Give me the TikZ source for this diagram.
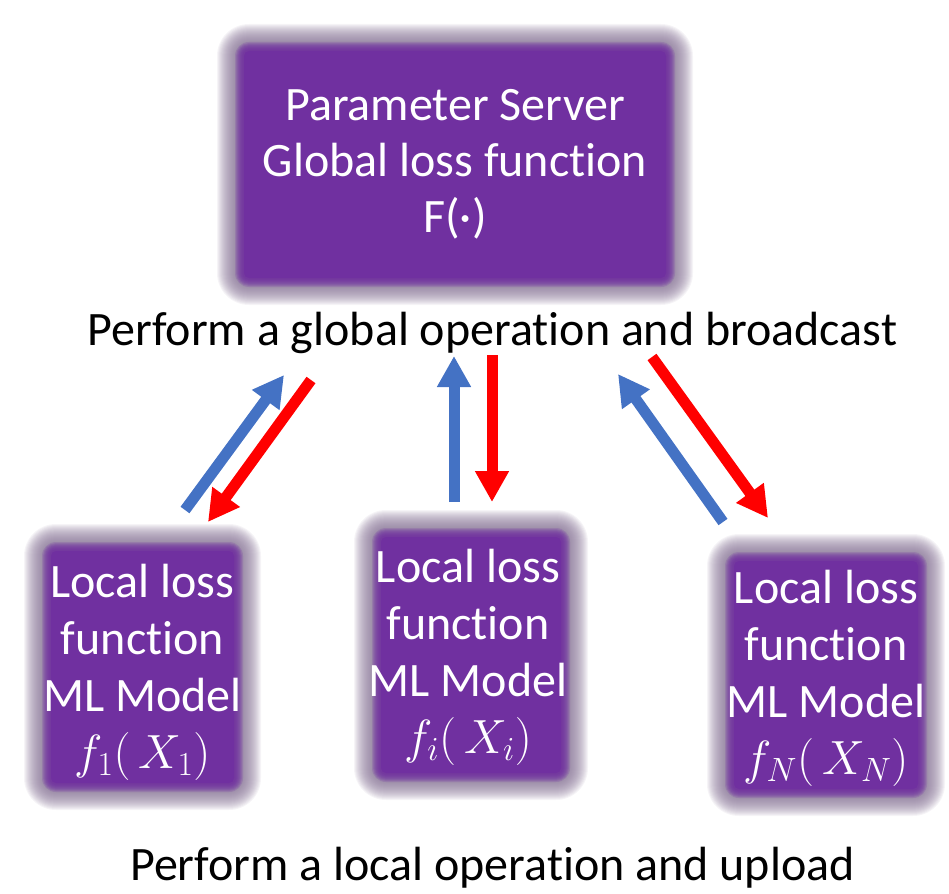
\RequirePackage{fix-cm}
\documentclass[tikz,border=0pt]{standalone}
\usepackage{fontspec}
\setmainfont{Carlito}[Ligatures={NoCommon,NoRequired,NoContextual},Contextuals=NoAlternate]
\usetikzlibrary{arrows.meta}

\definecolor{boxpurple}{RGB}{112,48,160}
\definecolor{haloclr}{RGB}{130,110,145}
\definecolor{upblue}{RGB}{68,114,196}
\definecolor{downred}{RGB}{255,0,0}

\tikzset{
  core/.style={fill=boxpurple, fill opacity=0.22, rounded corners=14pt, inner sep=0pt},
  boxtext/.style={text=white, align=center, inner sep=0pt,
    font=\fontsize{48}{57}\selectfont},
  flowtip/.style={-{Triangle[width=32pt,length=31pt]}, line width=11pt},
  upflow/.style={flowtip, draw=upblue},
  downflow/.style={flowtip, draw=downred},
  caption/.style={anchor=base, inner sep=0pt, text=black,
    font=\fontsize{48}{57}\selectfont},
}

% soft edge of a box: centre x, centre y, half width, half height
\newcommand\softedge[4]{%
  \foreach \k in {1,...,18}{%
    \pgfmathsetmacro\rr{14+\k}%
    \fill[haloclr, opacity=0.075, rounded corners=\rr pt]
      ({#1-#3-\k},{#2-#4-\k}) rectangle ({#1+#3+\k},{#2+#4+\k});
  }}
% solid interior, fading towards the edge
\newcommand\softcore[4]{%
  \foreach \k in {1,...,9}{%
    \pgfmathsetmacro\rr{max(14-\k,5)}%
    \pgfmathsetmacro\op{\k==9 ? 1 : 0.22}%
    \fill[boxpurple, opacity=\op, rounded corners=\rr pt]
      ({#1-#3+\k},{#2-#4+\k}) rectangle ({#1+#3-\k},{#2+#4-\k});
  }}

\begin{document}
\begin{tikzpicture}[x=1pt,y=-1pt]
\useasboundingbox (0,0) rectangle (949,893);

% parameter server
\softedge{455}{164.5}{220}{122.5}
\node[core, minimum width=440pt, minimum height=245pt] (server) at (455,164.5) {};
\softcore{455}{164.5}{220}{122.5}
\node[boxtext, font=\fontsize{48}{56}\selectfont] (servertext) at (455,164.5)
  {Parameter Server\\Global loss function\\F(·)};

% local workers
\softedge{142.5}{667}{100.5}{125}
\node[core, minimum width=201pt, minimum height=250pt] (w1) at (142.5,667) {};
\softcore{142.5}{667}{100.5}{125}
\node[boxtext] (w1text) at (142.5,672) {Local loss\\function\\ML Model\\$f_1(\,X_1)$};

\softedge{471}{655}{99}{127}
\node[core, minimum width=198pt, minimum height=254pt] (wi) at (471,655) {};
\softcore{471}{655}{99}{127}
\node[boxtext] (witext) at (468,657) {Local loss\\function\\ML Model\\$f_i(\,X_i)$};

\softedge{826}{675}{101}{123}
\node[core, minimum width=202pt, minimum height=246pt] (wn) at (826,675) {};
\softcore{826}{675}{101}{123}
\node[boxtext] (wntext) at (826,678) {Local loss\\function\\ML Model\\$f_N(\,X_N)$};

% captions
\node[caption] (globalop) at (492.5,345) {Perform a global operation and broadcast};
\node[caption] (localop) at (492.5,880) {Perform a local operation and upload};

% arrow end points
\coordinate (u1a) at (185,510);  \coordinate (u1b) at (284,375);
\coordinate (d1a) at (311,380);  \coordinate (d1b) at (208,522);
\coordinate (uia) at (454,502);  \coordinate (uib) at (454,356);
\coordinate (dia) at (492,355);  \coordinate (dib) at (492,502);
\coordinate (una) at (723,522);  \coordinate (unb) at (618,374);
\coordinate (dna) at (652,357);  \coordinate (dnb) at (768,518);

\draw[upflow] (u1a) -- (u1b);
\draw[downflow] (d1a) -- (d1b);
\draw[upflow] (uia) -- (uib);
\draw[downflow] (dia) -- (dib);
\draw[upflow] (una) -- (unb);
\draw[downflow] (dna) -- (dnb);
\end{tikzpicture}
\end{document}
